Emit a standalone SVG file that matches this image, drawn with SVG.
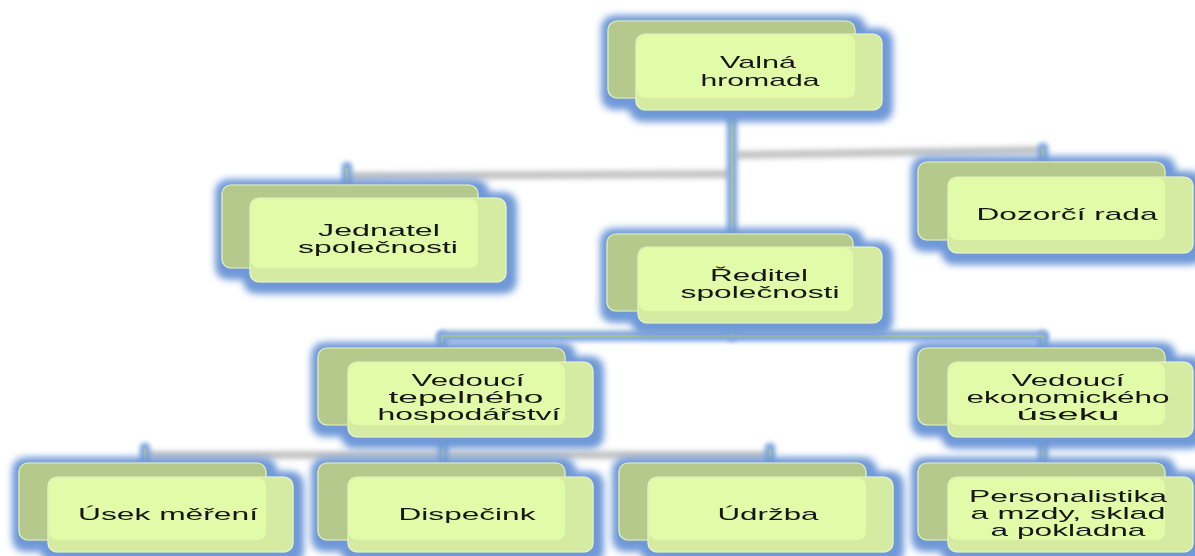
<svg xmlns="http://www.w3.org/2000/svg" width="1195" height="556" viewBox="0 0 1195 556">
<style>
.back{fill:#b4c98b;stroke:#e2f2b8;stroke-width:1.2}
.front{fill:#d5eba1;stroke:#e8f6c4;stroke-width:1.2}
.fin{fill:#e1fba9}
.t{font-family:"Liberation Sans",Arial,sans-serif;font-size:17px;fill:#141414;text-anchor:middle}
.glowline{stroke:#86abe0;stroke-width:11;fill:none;stroke-linecap:round;filter:url(#soft)}
.thin{stroke:#b3c97c;stroke-width:1.5;fill:none}
.grey{stroke:#c4c4c4;stroke-width:8;fill:none;filter:url(#soft2)}
</style>
<defs>
<filter id="glow" x="-15%" y="-40%" width="130%" height="180%">
<feMorphology in="SourceAlpha" operator="dilate" radius="6" result="d"/>
<feGaussianBlur in="d" stdDeviation="4.5" result="b"/>
<feOffset in="b" dx="2" dy="3" result="o"/>
<feFlood flood-color="#7099d8" flood-opacity="1"/>
<feComposite in2="o" operator="in" result="g"/>
<feMerge><feMergeNode in="g"/><feMergeNode in="g"/><feMergeNode in="SourceGraphic"/></feMerge>
</filter>
<filter id="soft" filterUnits="userSpaceOnUse" x="0" y="0" width="1195" height="556"><feGaussianBlur stdDeviation="2"/></filter>
<filter id="soft2" filterUnits="userSpaceOnUse" x="0" y="0" width="1195" height="556"><feGaussianBlur stdDeviation="2.5"/></filter>
</defs>
<rect width="1195" height="556" fill="#ffffff"/>

<g id="connectors">
<line class="grey" x1="347" y1="176" x2="730" y2="174"/>
<line class="grey" x1="736" y1="155" x2="1043" y2="150"/>
<line class="grey" x1="145" y1="455" x2="770" y2="455"/>
<line class="glowline" x1="732" y1="105" x2="732" y2="240"/>
<line class="glowline" x1="732" y1="320" x2="732" y2="336"/>
<line class="glowline" x1="442" y1="336" x2="1043" y2="336"/>
<line class="glowline" x1="442" y1="336" x2="442" y2="350"/>
<line class="glowline" x1="1043" y1="336" x2="1043" y2="350"/>
<line class="glowline" x1="347" y1="167" x2="347" y2="188"/>
<line class="glowline" x1="1043" y1="148" x2="1043" y2="165"/>
<line class="glowline" x1="443" y1="435" x2="443" y2="466"/>
<line class="glowline" x1="1043" y1="435" x2="1043" y2="466"/>
<line class="glowline" x1="145" y1="448" x2="145" y2="466"/>
<line class="glowline" x1="770" y1="448" x2="770" y2="466"/>
<line class="thin" x1="732" y1="110" x2="732" y2="234"/>
<line class="thin" x1="732" y1="323" x2="732" y2="336"/>
<polyline class="thin" points="442,348 442,336 1043,336 1043,348"/>
<line class="thin" x1="347" y1="168" x2="347" y2="185"/>
<line class="thin" x1="1043" y1="148" x2="1043" y2="162"/>
<line class="thin" x1="443" y1="437" x2="443" y2="463"/>
<line class="thin" x1="1043" y1="437" x2="1043" y2="463"/>
<line class="thin" x1="145" y1="449" x2="145" y2="463"/>
<line class="thin" x1="770" y1="449" x2="770" y2="463"/>
</g>

<g id="n-valna" filter="url(#glow)">
<rect class="back" x="608" y="21" width="247" height="77" rx="9"/>
<rect class="front" x="636" y="34" width="246" height="76" rx="9"/>
<rect class="fin" x="637" y="35" width="218" height="63" rx="8"/>
<text class="t" x="758" y="68" textLength="76" lengthAdjust="spacingAndGlyphs">Valná</text>
<text class="t" x="760" y="86" textLength="119" lengthAdjust="spacingAndGlyphs">hromada</text>
</g>

<g id="n-jednatel" filter="url(#glow)">
<rect class="back" x="222" y="185" width="256" height="83" rx="9"/>
<rect class="front" x="250" y="198" width="256" height="84" rx="9"/>
<rect class="fin" x="251" y="199" width="227" height="69" rx="8"/>
<text class="t" x="379" y="236" textLength="122" lengthAdjust="spacingAndGlyphs">Jednatel</text>
<text class="t" x="378" y="253" textLength="160" lengthAdjust="spacingAndGlyphs">společnosti</text>
</g>

<g id="n-dozorci" filter="url(#glow)">
<rect class="back" x="918" y="162" width="247" height="78" rx="9"/>
<rect class="front" x="948" y="177" width="245" height="76" rx="9"/>
<rect class="fin" x="949" y="178" width="216" height="62" rx="8"/>
<text class="t" x="1067" y="220" textLength="181" lengthAdjust="spacingAndGlyphs">Dozorčí rada</text>
</g>

<g id="n-reditel" filter="url(#glow)">
<rect class="back" x="607" y="234" width="246" height="77" rx="9"/>
<rect class="front" x="638" y="247" width="244" height="76" rx="9"/>
<rect class="fin" x="639" y="248" width="214" height="63" rx="8"/>
<text class="t" x="759" y="281" textLength="98" lengthAdjust="spacingAndGlyphs">Ředitel</text>
<text class="t" x="760" y="298" textLength="159" lengthAdjust="spacingAndGlyphs">společnosti</text>
</g>

<g id="n-tepelne" filter="url(#glow)">
<rect class="back" x="318" y="348" width="247" height="77" rx="9"/>
<rect class="front" x="348" y="362" width="245" height="75" rx="9"/>
<rect class="fin" x="349" y="363" width="216" height="62" rx="8"/>
<text class="t" x="468" y="386" textLength="113" lengthAdjust="spacingAndGlyphs">Vedoucí</text>
<text class="t" x="466" y="403" textLength="155" lengthAdjust="spacingAndGlyphs">tepelného</text>
<text class="t" x="469" y="420" textLength="183" lengthAdjust="spacingAndGlyphs">hospodářství</text>
</g>

<g id="n-ekonom" filter="url(#glow)">
<rect class="back" x="918" y="348" width="247" height="77" rx="9"/>
<rect class="front" x="948" y="362" width="245" height="75" rx="9"/>
<rect class="fin" x="949" y="363" width="216" height="62" rx="8"/>
<text class="t" x="1068" y="386" textLength="113" lengthAdjust="spacingAndGlyphs">Vedoucí</text>
<text class="t" x="1068" y="403" textLength="203" lengthAdjust="spacingAndGlyphs">ekonomického</text>
<text class="t" x="1068" y="420" textLength="103" lengthAdjust="spacingAndGlyphs">úseku</text>
</g>

<g id="n-usek" filter="url(#glow)">
<rect class="back" x="19" y="463" width="247" height="77" rx="9"/>
<rect class="front" x="48" y="477" width="245" height="75" rx="9"/>
<rect class="fin" x="49" y="478" width="217" height="62" rx="8"/>
<text class="t" x="168" y="520" textLength="180" lengthAdjust="spacingAndGlyphs">Úsek měření</text>
</g>

<g id="n-dispecink" filter="url(#glow)">
<rect class="back" x="318" y="463" width="247" height="77" rx="9"/>
<rect class="front" x="348" y="477" width="245" height="75" rx="9"/>
<rect class="fin" x="349" y="478" width="216" height="62" rx="8"/>
<text class="t" x="467" y="520" textLength="137" lengthAdjust="spacingAndGlyphs">Dispečink</text>
</g>

<g id="n-udrzba" filter="url(#glow)">
<rect class="back" x="619" y="463" width="247" height="77" rx="9"/>
<rect class="front" x="648" y="477" width="245" height="75" rx="9"/>
<rect class="fin" x="649" y="478" width="217" height="62" rx="8"/>
<text class="t" x="768" y="520" textLength="101" lengthAdjust="spacingAndGlyphs">Údržba</text>
</g>

<g id="n-personal" filter="url(#glow)">
<rect class="back" x="918" y="463" width="247" height="77" rx="9"/>
<rect class="front" x="948" y="477" width="245" height="75" rx="9"/>
<rect class="fin" x="949" y="478" width="216" height="62" rx="8"/>
<text class="t" x="1068" y="502" textLength="198" lengthAdjust="spacingAndGlyphs">Personalistika</text>
<text class="t" x="1068" y="519" textLength="195" lengthAdjust="spacingAndGlyphs">a mzdy, sklad</text>
<text class="t" x="1068" y="536" textLength="155" lengthAdjust="spacingAndGlyphs">a pokladna</text>
</g>
</svg>
